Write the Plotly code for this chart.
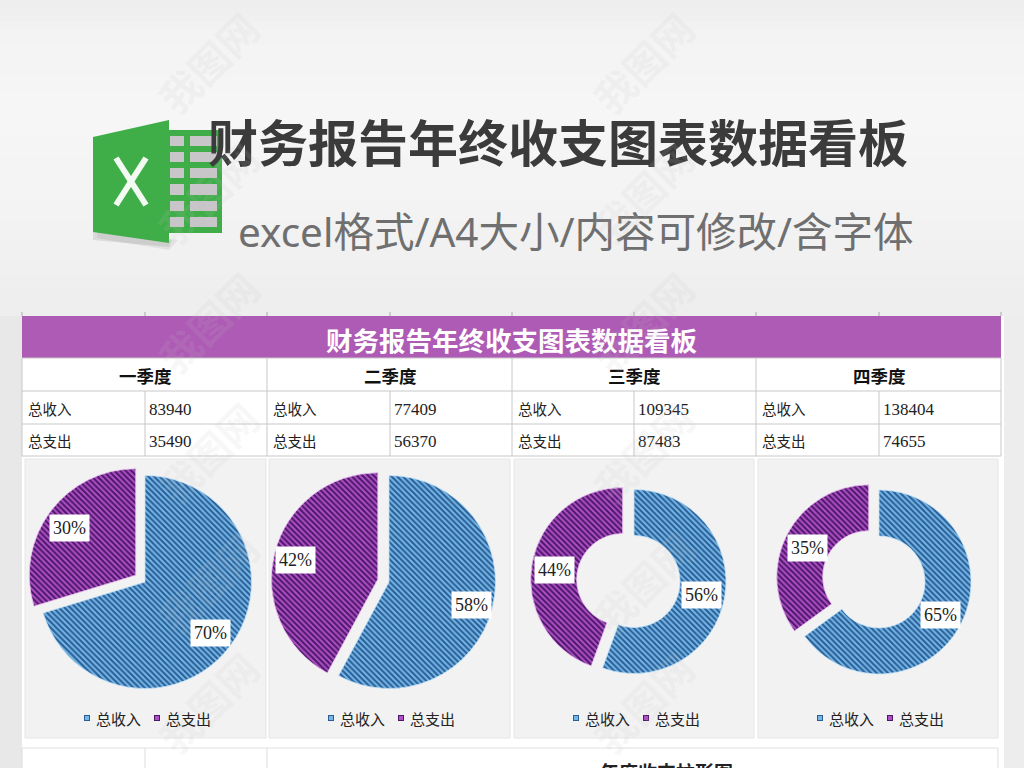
import math
import plotly.graph_objects as go

W, H = 1024, 768

# ---- data ----
quarters = ["一季度", "二季度", "三季度", "四季度"]
row_labels = ["总收入", "总支出"]
income = [83940, 77409, 109345, 138404]
expense = [35490, 56370, 87483, 74655]
main_title = "财务报告年终收支图表数据看板"
sub_title = "excel格式/A4大小/内容可修改/含字体"
next_title = "年度收支柱形图"
watermark = "我图网"

# ---- styling ----
CJK = "Noto Sans CJK SC"
SERIF = "Liberation Serif"
BLUE_BG, BLUE_FG = "#74b8e6", "#2a5c96"
PURPLE_BG, PURPLE_FG = "#b04fc6", "#4b1868"
GRID = "#c8c8c8"

centers = [(145, 582), (389, 582), (634, 581.5), (879, 582)]
radii = [106.5, 106.5, 92, 92]
holes = [0, 0, 0.5, 0.5]
pull_px = 11.5
label_frac = [0.77, 0.80, 0.75, 0.75]
col_x = [22, 145, 267, 390, 512, 634, 756, 879, 1001]
panels = [(25, 266), (269, 510), (514, 754), (758, 998)]


def px(x):
    return x / W


def py(y):
    return 1 - y / H


shapes, annots = [], []


def rect(x0, y0, x1, y1, fill, line=None, lw=0, opacity=1):
    shapes.append(dict(type="rect", xref="paper", yref="paper", layer="below",
                       x0=px(x0), x1=px(x1), y0=py(y0), y1=py(y1), fillcolor=fill,
                       opacity=opacity, line=dict(color=line or fill, width=lw)))


def seg(x0, y0, x1, y1, color=GRID, width=1):
    shapes.append(dict(type="line", xref="paper", yref="paper", layer="below",
                       x0=px(x0), x1=px(x1), y0=py(y0), y1=py(y1),
                       line=dict(color=color, width=width)))


def poly(points, fill, opacity=1):
    d = "M " + " L ".join(f"{px(a):.5f},{py(b):.5f}" for a, b in points) + " Z"
    shapes.append(dict(type="path", path=d, xref="paper", yref="paper", layer="below",
                       fillcolor=fill, opacity=opacity, line=dict(width=0)))


def text(x, y, s, size, color="#222222", font=CJK, bold=False, anchor="center", **kw):
    annots.append(dict(x=px(x), y=py(y), xref="paper", yref="paper", text=f"<b>{s}</b>" if bold else s,
                       showarrow=False, xanchor=anchor, yanchor="middle",
                       font=dict(family=font, size=size, color=color), **kw))


# ---- page background ----
bg_stops = [(0, 238), (30, 243), (90, 246), (180, 244), (260, 240), (316, 237)]
for (y0, v0), (y1, v1) in zip(bg_stops, bg_stops[1:]):
    for i in range(4):
        v = round(v0 + (v1 - v0) * i / 4)
        ya = y0 + (y1 - y0) * i / 4
        yb = y0 + (y1 - y0) * (i + 1) / 4
        rect(0, ya, W, yb + 1, f"rgb({v},{v},{v})")
rect(0, 316, 22, H, "#e8e8e8")
rect(1004, 316, W, H, "#ededed")
rect(22, 316, 1004, H, "#ffffff")

# ---- excel icon ----
poly([(97, 238), (169, 250), (178, 240), (97, 226)], "#9a9a9a", 0.18)
poly([(93, 240), (169, 247), (172, 240), (93, 226)], "#8a8a8a", 0.22)
rect(169, 130, 222, 233, "#3fae49")
for y0, y1 in [(136, 146), (152, 162), (168, 178), (184, 195), (201, 211), (217, 227)]:
    rect(170, y0, 184, y1, "#c9c6c9")
    rect(190, y0, 217, y1, "#c9c6c9")
poly([(93, 137), (169, 120), (169, 243), (93, 232)], "#3fae49")
seg(116, 158, 146, 205, "#f2faf2", 6)
seg(146, 158, 116, 205, "#f2faf2", 6)

# ---- table ----
rect(22, 316, 1001, 358, "#ae5bb5")
for y in (358, 391, 424, 456):
    seg(22, y, 1001, y)
for x in col_x:
    seg(x, 358 if x in col_x[0::2] else 391, x, 456)
for x in col_x:
    seg(x, 312, x, 316, "#aaaaaa")
for x0, x1 in panels:
    rect(x0, 459, x1, 738, "#f2f2f2", "#e6e6e6", 1)

# bottom table stub
seg(22, 748, 998, 748, "#e0e0e0")
for x in (22, 145, 267, 998):
    seg(x, 748, x, H, "#dddddd")

text(511, 339, main_title, 26.5, "#ffffff", bold=True)
text(558, 140, main_title, 50, "#3b3b3b", bold=True)
text(236, 231, sub_title, 40.5, "#6f6f6f", font="Noto Sans, Noto Sans CJK SC", anchor="left")
text(598, 771, next_title, 19, "#222222", bold=True, anchor="left")

# ---- table text ----
for i, q in enumerate(quarters):
    left = col_x[2 * i]
    mid = col_x[2 * i + 1]
    text(mid, 375, q, 17.5, "#111111", bold=True)
    for lab, val, y in zip(row_labels, (income[i], expense[i]), (408, 440)):
        text(left + 4, y, lab, 14.5, "#222222", anchor="left")
        text(mid + 2, y + 1, str(val), 17, "#222222", font=SERIF, anchor="left")

# ---- watermarks (below labels) ----
for wx in (208, 643):
    for wy in (62, 192, 322, 452, 582, 702):
        text(wx, wy, watermark, 40, "rgba(195,195,195,0.13)", bold=True, textangle=-45)

# ---- pies ----
traces = []
for i in range(4):
    vals = [income[i], expense[i]]
    cx, cy = centers[i]
    r = radii[i]
    pull = pull_px / r
    half = r * (1 + pull)
    traces.append(go.Pie(
        labels=row_labels, values=vals, sort=False, direction="clockwise", rotation=0,
        hole=holes[i], pull=[0, pull], textinfo="none", hoverinfo="skip", showlegend=False,
        domain=dict(x=[px(cx - half), px(cx + half)], y=[py(cy + half), py(cy - half)]),
        marker=dict(colors=[BLUE_BG, PURPLE_BG],
                    line=dict(width=0.8, color=["#c4e2f6", "#ecc8f2"]),
                    pattern=dict(shape=["\\", "\\"], fgcolor=[BLUE_FG, PURPLE_FG],
                                 bgcolor=[BLUE_BG, PURPLE_BG], size=4, solidity=0.5)),
    ))
    # percentage labels placed from the values
    total = sum(vals)
    start = 0.0
    for j, v in enumerate(vals):
        frac = v / total
        mid_ang = 2 * math.pi * (start + frac / 2)
        ax, ay = cx, cy
        if j == 1:
            ax += pull_px * math.sin(mid_ang)
            ay -= pull_px * math.cos(mid_ang)
        lx = ax + label_frac[i] * r * math.sin(mid_ang)
        ly = ay - label_frac[i] * r * math.cos(mid_ang) + 2
        text(lx, ly, f"{round(frac * 100)}%", 18, "#222222", font=SERIF,
             bgcolor="#ffffff", borderpad=3)
        start += frac

# ---- chart legends ----
for x0, _ in panels:
    for k, (lab, col, fg) in enumerate(zip(row_labels, (BLUE_BG, PURPLE_BG), (BLUE_FG, PURPLE_FG))):
        off = 62 + 70 * k
        rect(x0 + off - 3, 715, x0 + off + 3, 721, fg)
        rect(x0 + off - 2, 716, x0 + off + 2, 720, col)
        text(x0 + off + 7, 718, lab, 15, "#222222", anchor="left")

fig = go.Figure(traces)
fig.update_layout(width=W, height=H, margin=dict(l=0, r=0, t=0, b=0), autosize=False,
                  paper_bgcolor="#f2f2f2", plot_bgcolor="#f2f2f2",
                  shapes=shapes, annotations=annots)
fig.write_html("out.html", config={"displayModeBar": False},
               post_script="document.body.style.margin='0';document.body.style.overflow='hidden';")
